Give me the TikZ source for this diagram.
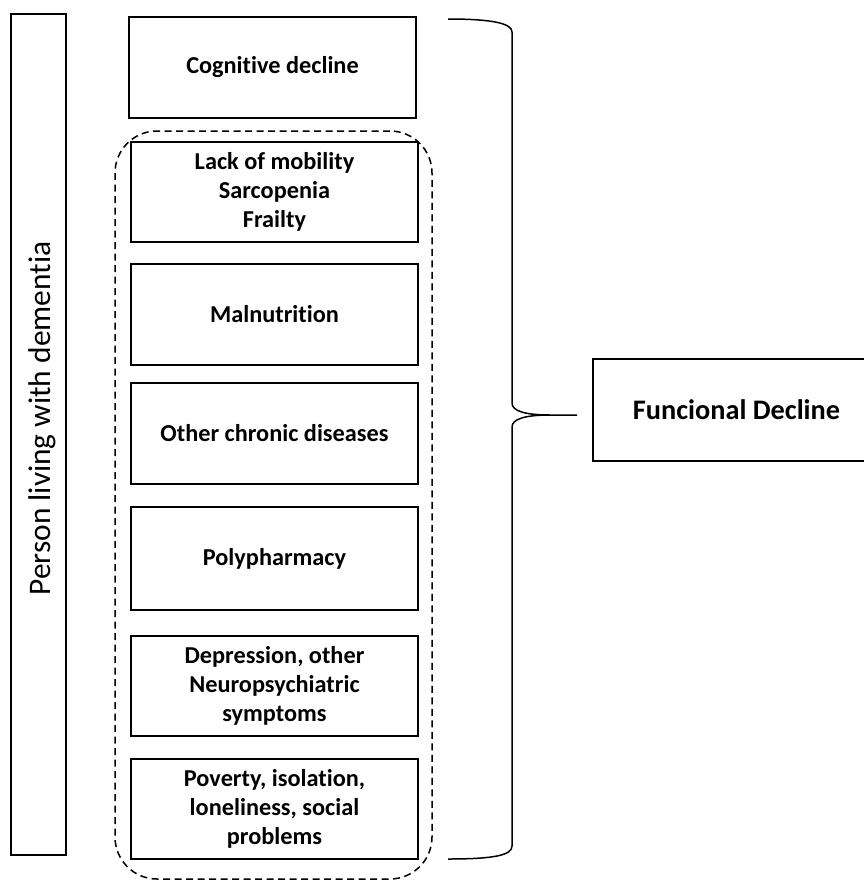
\documentclass[tikz,border=0pt]{standalone}
\usepackage{fontspec}
\setmainfont{Carlito}[Ligatures=NoCommon]
\begin{document}
\begin{tikzpicture}[x=1pt,y=-1pt,
  box/.style={draw, line width=1.5pt, minimum width=287pt, inner sep=0pt, align=center,
    font=\fontsize{24.3}{29}\selectfont\bfseries},
  grpbox/.style={draw, line width=1.5pt, dash pattern=on 7pt off 4.5pt, rounded corners=42pt, inner sep=0pt},
  bracepath/.style={line width=1.5pt}]
\useasboundingbox (0,0) rectangle (864,881);
% left frame
\node[draw, line width=1.5pt, minimum width=55pt, minimum height=841pt, inner sep=0pt] (person) at (38.5,434.5) {};
\node[rotate=90, inner sep=0pt, font=\fontsize{31.4}{37}\selectfont] (personlbl) at (42,418.5) {Person living with dementia};
% boxes
\node[box, minimum width=287pt, minimum height=101pt] (cog) at (272.5,67.5) {Cognitive decline};
\node[grpbox, minimum width=317pt, minimum height=748pt] (grp) at (273.5,505) {};
\node[box, minimum height=100pt] (lack) at (274.5,192) {Lack of mobility\\Sarcopenia\\Frailty};
\node[box, minimum height=101pt] (mal) at (274.5,314.5) {Malnutrition};
\node[box, minimum height=101pt] (other) at (274.5,433.5) {Other chronic diseases};
\node[box, minimum height=103pt] (poly) at (274.5,558.5) {Polypharmacy};
\node[box, minimum height=100pt] (dep) at (274.5,686) {Depression, other\\Neuropsychiatric\\symptoms};
\node[box, minimum height=100pt] (pov) at (274.5,809) {Poverty, isolation,\\loneliness, social\\problems};
% functional decline
\node[box, minimum width=287pt, minimum height=102pt, font=\fontsize{28.3}{33}\selectfont\bfseries] (func) at (736.5,410) {Funcional Decline};
% brace
\coordinate (btop) at (448,19);
\coordinate (bbot) at (448,859);
\coordinate (btip) at (577,415);
\draw[bracepath] (btop) .. controls (495,19) and (512,24) .. (512,32) -- (512,403)
  .. controls (512,411) and (525,415) .. (550,415) -- (btip);
\draw[bracepath] (550,415) .. controls (525,415) and (512,419) .. (512,427) -- (512,846)
  .. controls (512,855) and (495,859) .. (bbot);
\end{tikzpicture}
\end{document}
